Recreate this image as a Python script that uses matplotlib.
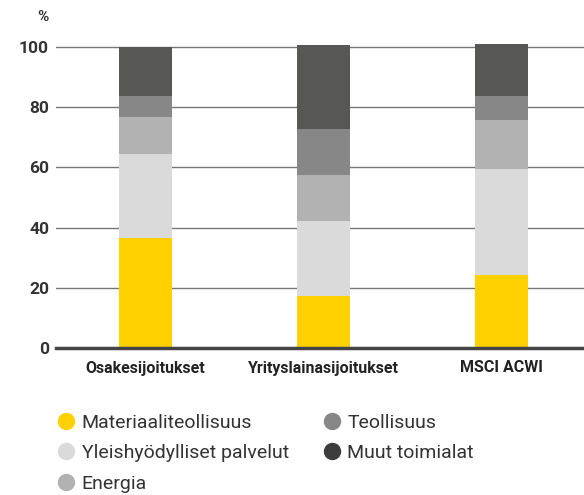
import matplotlib.pyplot as plt
from matplotlib.lines import Line2D
import numpy as np

plt.rcParams['font.family'] = ['Roboto', 'DejaVu Sans']

categories = ["Osakesijoitukset", "Yrityslainasijoitukset", "MSCI ACWI"]
series_names = ["Materiaaliteollisuus", "Yleishyödylliset palvelut", "Energia",
                "Teollisuus", "Muut toimialat"]
materiaali = [36.5, 17.4, 24.3]
yleis = [28.0, 24.8, 35.2]
energia = [12.2, 15.3, 16.2]
teollisuus = [7.0, 15.3, 8.0]
muut = [16.3, 27.9, 17.3]
yticks = [0, 20, 40, 60, 80, 100]

colors = ["#FFD100", "#DADADA", "#B2B2B2", "#878787", "#575756"]
legend_colors = ["#FFD100", "#DADADA", "#B2B2B2", "#878787", "#3C3C3C"]

fig = plt.figure(figsize=(5.84, 4.95), dpi=100)
ax = fig.add_axes([56 / 584, 147 / 495, 528 / 584, 307 / 495])

x = np.arange(len(categories))
bottom = np.zeros(len(categories))
for vals, c in zip([materiaali, yleis, energia, teollisuus, muut], colors):
    ax.bar(x, vals, width=0.3, bottom=bottom, color=c, zorder=3)
    bottom += np.array(vals)

ax.set_xlim(-0.503, 2.463)
ax.set_ylim(0, 102)
ax.set_yticks(yticks)
ax.set_yticklabels([str(t) for t in yticks], fontsize=12.5, fontweight='bold', color='#333333')
ax.set_xticks(x)
ax.set_xticklabels(categories, fontsize=11.5, fontweight='bold', color='#222222')
ax.tick_params(axis='both', length=0)
ax.tick_params(axis='y', pad=5)
ax.tick_params(axis='x', pad=9)
ax.grid(axis='y', color='#777777', linewidth=1, zorder=0)
ax.axhline(0, color='#444444', linewidth=2.5, zorder=4, clip_on=False)
for s in ax.spines.values():
    s.set_visible(False)

fig.text(43 / 584, 1 - 17 / 495, "%", fontsize=11, fontweight='bold', color='#333333',
         ha='center', va='center')

handles = [Line2D([], [], marker='o', linestyle='none', markersize=11.5,
                  markerfacecolor=c, markeredgecolor=c) for c in legend_colors]
fig.legend(handles, series_names, ncol=2, loc='upper left',
           bbox_to_anchor=(39 / 584, 1 - 396 / 495), frameon=False,
           fontsize=14, labelcolor='#333333', handletextpad=0.3,
           columnspacing=1.7, labelspacing=0.65, handlelength=1.0)

fig.savefig("out.png", dpi=100)
